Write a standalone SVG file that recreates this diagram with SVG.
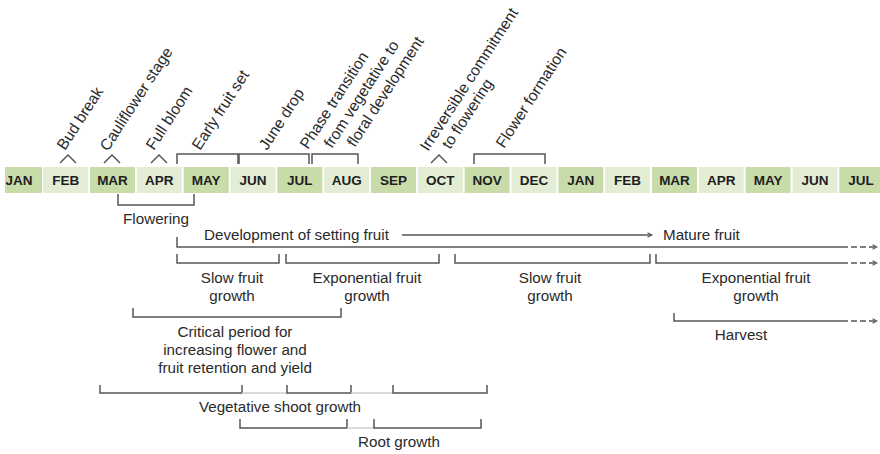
<svg xmlns="http://www.w3.org/2000/svg" width="880" height="454" viewBox="0 0 880 454">
<defs>
<style>
.m{font-family:"Liberation Sans",Arial,sans-serif;font-size:13.5px;font-weight:bold;fill:#1e1e1e;text-anchor:middle}
.d{fill:#c8dcaa}
.l{fill:#e3edd5}
.t{font-family:"Liberation Sans",Arial,sans-serif;font-size:15.2px;fill:#2a2a2a}
.r{font-size:15.6px}
.c{text-anchor:middle}
.ln{fill:none;stroke:#555;stroke-width:1.5}
.dot{fill:none;stroke:#cfcfcf;stroke-width:1.5}
.dash{fill:none;stroke:#555;stroke-width:1.5;stroke-dasharray:6 3}
</style>
<marker id="chev" viewBox="0 0 8 8" refX="7" refY="4" markerWidth="6" markerHeight="6" markerUnits="userSpaceOnUse" orient="auto">
<path d="M1,1 L7,4 L1,7" fill="none" stroke="#555" stroke-width="1.4"/>
</marker>
</defs>
<rect width="880" height="454" fill="#fff"/>

<g id="months">
<rect class="d" x="5" y="167" width="37" height="26"/><text class="m" x="19" y="185">JAN</text>
<rect class="l" x="43.2" y="167" width="45" height="26"/><text class="m" x="65.7" y="185">FEB</text>
<rect class="d" x="90" y="167" width="45" height="26"/><text class="m" x="112.5" y="185">MAR</text>
<rect class="l" x="136.8" y="167" width="45" height="26"/><text class="m" x="159.3" y="185">APR</text>
<rect class="d" x="183.7" y="167" width="45" height="26"/><text class="m" x="206.2" y="185">MAY</text>
<rect class="l" x="230.5" y="167" width="45" height="26"/><text class="m" x="253" y="185">JUN</text>
<rect class="d" x="277.3" y="167" width="45" height="26"/><text class="m" x="299.8" y="185">JUL</text>
<rect class="l" x="324.2" y="167" width="45" height="26"/><text class="m" x="346.7" y="185">AUG</text>
<rect class="d" x="371" y="167" width="45" height="26"/><text class="m" x="393.5" y="185">SEP</text>
<rect class="l" x="417.8" y="167" width="45" height="26"/><text class="m" x="440.3" y="185">OCT</text>
<rect class="d" x="464.6" y="167" width="45" height="26"/><text class="m" x="487.1" y="185">NOV</text>
<rect class="l" x="511.5" y="167" width="45" height="26"/><text class="m" x="534" y="185">DEC</text>
<rect class="d" x="558.3" y="167" width="45" height="26"/><text class="m" x="580.8" y="185">JAN</text>
<rect class="l" x="605.1" y="167" width="45" height="26"/><text class="m" x="627.6" y="185">FEB</text>
<rect class="d" x="652" y="167" width="45" height="26"/><text class="m" x="674.5" y="185">MAR</text>
<rect class="l" x="698.8" y="167" width="45" height="26"/><text class="m" x="721.3" y="185">APR</text>
<rect class="d" x="745.6" y="167" width="45" height="26"/><text class="m" x="768.1" y="185">MAY</text>
<rect class="l" x="792.5" y="167" width="45" height="26"/><text class="m" x="815" y="185">JUN</text>
<rect class="d" x="839.3" y="167" width="41" height="26"/><text class="m" x="861" y="185">JUL</text>
</g>

<g id="top-events">
<g id="bud-break"><path class="ln" d="M60,163 L68,155 L76,163"/><text class="t r" transform="translate(65,151) rotate(-57)">Bud break</text></g>
<g id="cauliflower"><path class="ln" d="M104,163 L112,155 L120,163"/><text class="t r" transform="translate(108,152) rotate(-57)">Cauliflower stage</text></g>
<g id="full-bloom"><path class="ln" d="M151,163 L159,155 L167,163"/><text class="t r" transform="translate(154,151) rotate(-57)">Full bloom</text></g>
<g id="early-fruit-set"><path class="ln" d="M177,164 V154 H238 V164"/><text class="t r" transform="translate(200,151) rotate(-57)">Early fruit set</text></g>
<g id="june-drop"><path class="ln" d="M239,164 V154 H309 V164"/><text class="t r" transform="translate(267,151) rotate(-57)">June drop</text></g>
<g id="phase-transition"><path class="ln" d="M312,164 V154 H358 V164"/>
<text class="t r" transform="translate(308,150) rotate(-57)">Phase transition</text>
<text class="t r" transform="translate(332,149) rotate(-57)">from vegetative to</text>
<text class="t r" transform="translate(355,148) rotate(-57)">floral development</text></g>
<g id="irreversible"><path class="ln" d="M431,163 L439,155 L447,163"/>
<text class="t r" transform="translate(428,152) rotate(-57)">Irreversible commitment</text>
<text class="t r" transform="translate(450,150) rotate(-57)">to flowering</text></g>
<g id="flower-formation"><path class="ln" d="M474,164 V154 H545 V164"/><text class="t r" transform="translate(504,149) rotate(-57)">Flower formation</text></g>
</g>

<g id="connectors">
<path class="ln" d="M118,194 V205 H194 V194"/>
<path class="ln" d="M177,237 V247 H842"/>
<path class="dash" d="M842,247 H877" marker-end="url(#chev)"/>
<path class="ln" d="M402,235 H652" marker-end="url(#chev)"/>
<path class="ln" d="M177,254 V263 H279 V254"/>
<path class="ln" d="M286,254 V263 H439 V254"/>
<path class="ln" d="M455,254 V263 H650 V254"/>
<path class="ln" d="M656,254 V263 H842"/>
<path class="dash" d="M842,263 H877" marker-end="url(#chev)"/>
<path class="ln" d="M674,313 V321 H842"/>
<path class="dash" d="M842,321 H877" marker-end="url(#chev)"/>
<path class="ln" d="M133,308 V317 H341 V308"/>
<path class="ln" d="M100,385 V393 H242 V385"/>
<path class="dot" d="M242,393 H287"/>
<path class="ln" d="M287,385 V393 H351 V385"/>
<path class="dot" d="M351,393 H393"/>
<path class="ln" d="M393,385 V393 H487 V385"/>
<path class="ln" d="M240,419 V428 H347 V419"/>
<path class="dot" d="M347,428 H374"/>
<path class="ln" d="M374,419 V428 H481 V419"/>
</g>

<g id="labels">
<g id="flowering"><text class="t c" x="156" y="224">Flowering</text></g>
<g id="development"><text class="t" x="204" y="240">Development of setting fruit</text></g>
<g id="mature"><text class="t" x="663" y="240">Mature fruit</text></g>
<g id="slow1"><text class="t c" x="232" y="283">Slow fruit</text><text class="t c" x="232" y="301">growth</text></g>
<g id="exp1"><text class="t c" x="367" y="283">Exponential fruit</text><text class="t c" x="367" y="301">growth</text></g>
<g id="slow2"><text class="t c" x="550" y="283">Slow fruit</text><text class="t c" x="550" y="301">growth</text></g>
<g id="exp2"><text class="t c" x="756" y="283">Exponential fruit</text><text class="t c" x="756" y="301">growth</text></g>
<g id="harvest"><text class="t c" x="741" y="340">Harvest</text></g>
<g id="critical"><text class="t c" x="235" y="337">Critical period for</text><text class="t c" x="235" y="355">increasing flower and</text><text class="t c" x="235" y="373">fruit retention and yield</text></g>
<g id="vegetative"><text class="t c" x="280" y="412">Vegetative shoot growth</text></g>
<g id="root"><text class="t c" x="399" y="447">Root growth</text></g>
</g>
</svg>
